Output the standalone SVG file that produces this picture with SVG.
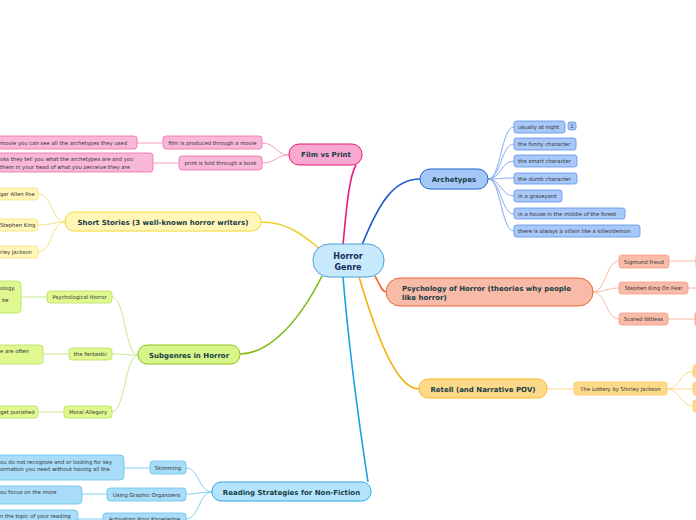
<svg xmlns="http://www.w3.org/2000/svg" width="696" height="520" viewBox="0 0 696 520">
<style>
text{font-family:"DejaVu Sans","Liberation Sans",sans-serif}
.m{font-size:7px;font-weight:bold;fill:#173c45;text-anchor:middle}
.c{font-size:5.3px;fill:#333}
.cc{font-size:5.3px;fill:#333;text-anchor:middle}
.b{fill:none;stroke-width:1.6}
.t{fill:none;stroke-width:1}
</style>
<rect width="696" height="520" fill="#fff"/>
<g id="connectors">
<path class="b" stroke="#e8197a" d="M343,245 C347,200 350,175 356,165"/>
<path class="b" stroke="#f0d030" d="M321,250 C300,232 285,222 261,222"/>
<path class="b" stroke="#7cba10" d="M322,276 C300,320 270,354 240,354"/>
<path class="b" stroke="#1aa0e0" d="M343,277 C350,360 360,430 368,482"/>
<path class="b" stroke="#1e5fcc" d="M362,245 C380,200 395,179 420,179"/>
<path class="b" stroke="#f06530" d="M375,276 C380,285 382,292 386,292"/>
<path class="b" stroke="#f5b010" d="M359,277 C375,330 395,389 419,389"/>
<g stroke="#f49ac6" class="t">
<path d="M289,155 C276,155 276,143 262,143"/><path d="M289,155 C276,155 276,163 262,163"/>
<path d="M163,143 L137,143"/><path d="M179,163 L153,163"/>
</g>
<g stroke="#f5e27a" class="t">
<path d="M65,222 C52,222 52,194 38,194"/><path d="M65,222 C52,222 52,225 38,225"/><path d="M65,222 C52,222 52,252 38,252"/>
</g>
<g stroke="#c8e890" class="t">
<path d="M138,355 C125,355 125,297 112,297"/><path d="M138,355 C125,355 125,354 112,354"/><path d="M138,355 C125,355 125,412 112,412"/>
<path d="M47,297 L21,297"/><path d="M69,354 L43,354"/><path d="M64,412 L38,412"/>
</g>
<g stroke="#80cdf0" class="t">
<path d="M212,492 C199,492 199,468 186,468"/><path d="M212,492 C199,492 199,494 186,494"/><path d="M212,492 C199,492 199,519 186,519"/>
<path d="M150,468 L124,468"/><path d="M107,494 L82,494"/><path d="M103,519 L78,519"/>
</g>
<g stroke="#86acf0" class="t">
<path d="M488,179 C501,179 501,127 514,127"/><path d="M488,179 C501,179 501,144 514,144"/><path d="M488,179 C501,179 501,161 514,161"/><path d="M488,179 C501,179 501,178 514,178"/><path d="M488,179 C501,179 501,196 514,196"/><path d="M488,179 C501,179 501,214 514,214"/><path d="M488,179 C501,179 501,231 514,231"/>
</g>
<g stroke="#f8b8a0" class="t">
<path d="M593,292 C606,292 606,261 619,261"/><path d="M593,292 C606,292 606,288 619,288"/><path d="M593,292 C606,292 606,319 619,319"/>
<path d="M669,261 L696,261"/><path d="M688,288 L696,288"/><path d="M668,319 L696,319"/>
</g>
<g stroke="#fcd890" class="t">
<path d="M547,389 L574,389"/>
<path d="M667,389 C680,389 680,371 694,371"/><path d="M667,389 L694,389"/><path d="M667,389 C680,389 680,406 694,406"/>
</g>
</g>
<g id="center"><rect x="313" y="244" width="71" height="33" rx="16" fill="#c6eafb" stroke="#4a9fd8" stroke-width="1"/><text class="m" x="348" y="259" style="font-size:8px;fill:#1a2b5c">Horror</text><text class="m" x="348" y="270" style="font-size:8px;fill:#1a2b5c">Genre</text></g>
<g id="film"><rect x="289" y="144" width="73" height="21" rx="10" fill="#f9a8cf" stroke="#e8197a"/><text class="m" x="326" y="157">Film vs Print</text></g>
<g id="film1"><rect x="163" y="136" width="99" height="13" rx="3" fill="#f9b8d8" stroke="#f06aa8" stroke-width=".8"/><text class="cc" x="212.5" y="144.5">film is produced through a movie</text></g>
<g id="film2"><rect x="179" y="156" width="83" height="14" rx="3" fill="#f9b8d8" stroke="#f06aa8" stroke-width=".8"/><text class="cc" x="220.5" y="165">print is told through a book</text></g>
<g id="film1a"><rect x="-10" y="136" width="147" height="13" rx="3" fill="#f9b8d8" stroke="#f06aa8" stroke-width=".8"/><text class="c" x="0" y="144.5">movie you can see all the archetypes they used</text></g>
<g id="film2a"><rect x="-10" y="153" width="163" height="19" rx="3" fill="#f9b8d8" stroke="#f06aa8" stroke-width=".8"/><text class="c" x="0" y="161">oks they tell you what the archetypes are and you</text><text class="c" x="0" y="168.5">them in your head of what you perceive they are</text></g>
<g id="short"><rect x="65" y="212" width="196" height="19" rx="9" fill="#fff6b8" stroke="#f0d830"/><text class="m" x="163" y="224.5">Short Stories (3 well-known horror writers)</text></g>
<g id="poe"><rect x="-10" y="188" width="48" height="12" rx="3" fill="#fff6b8" stroke="#f5e27a" stroke-width=".8"/><text class="c" x="0" y="196">gar Allen Poe</text></g>
<g id="king"><rect x="-10" y="219" width="48" height="12" rx="3" fill="#fff6b8" stroke="#f5e27a" stroke-width=".8"/><text class="c" x="0" y="227">Stephen King</text></g>
<g id="jackson"><rect x="-10" y="246" width="48" height="12" rx="3" fill="#fff6b8" stroke="#f5e27a" stroke-width=".8"/><text class="c" x="0" y="254">rley Jackson</text></g>
<g id="sub"><rect x="138" y="345" width="102" height="19" rx="9" fill="#d8f58a" stroke="#8cc21c"/><text class="m" x="189" y="357.5">Subgenres in Horror</text></g>
<g id="psych"><rect x="47" y="291" width="65" height="12" rx="3" fill="#e0f890" stroke="#b8e060" stroke-width=".8"/><text class="cc" x="79.5" y="299">Psychological Horror</text></g>
<g id="fant"><rect x="69" y="348" width="43" height="12" rx="3" fill="#e0f890" stroke="#b8e060" stroke-width=".8"/><text class="cc" x="90.5" y="356">the fantastic</text></g>
<g id="moral"><rect x="64" y="406" width="48" height="12" rx="3" fill="#e0f890" stroke="#b8e060" stroke-width=".8"/><text class="cc" x="88" y="414">Moral Allegory</text></g>
<g id="psycha"><rect x="-10" y="281" width="31" height="32" rx="4" fill="#e0f890" stroke="#b8e060" stroke-width=".8"/><text class="c" x="0" y="290">ology.</text><text class="c" x="2" y="302">be</text></g>
<g id="fanta"><rect x="-10" y="345" width="53" height="19" rx="3" fill="#e0f890" stroke="#b8e060" stroke-width=".8"/><text class="c" x="0" y="353">e are often</text></g>
<g id="morala"><rect x="-10" y="406" width="48" height="12" rx="3" fill="#e0f890" stroke="#b8e060" stroke-width=".8"/><text class="c" x="0" y="414">get punished</text></g>
<g id="read"><rect x="212" y="482" width="159" height="19" rx="9" fill="#b3e4fb" stroke="#2ea8e0"/><text class="m" x="291.5" y="494.5">Reading Strategies for Non-Fiction</text></g>
<g id="skim"><rect x="150" y="461" width="36" height="13" rx="3" fill="#a9dcf8" stroke="#66c1ec" stroke-width=".8"/><text class="cc" x="168" y="469.5">Skimming</text></g>
<g id="graphic"><rect x="107" y="488" width="79" height="13" rx="3" fill="#a9dcf8" stroke="#66c1ec" stroke-width=".8"/><text class="cc" x="146.5" y="496.5">Using Graphic Organizers</text></g>
<g id="prior"><rect x="103" y="513" width="83" height="13" rx="3" fill="#a9dcf8" stroke="#66c1ec" stroke-width=".8"/><text class="cc" x="144.5" y="521">Activating Prior Knowledge</text></g>
<g id="skima"><rect x="-10" y="455" width="134" height="25" rx="4" fill="#a9dcf8" stroke="#66c1ec" stroke-width=".8"/><text class="c" x="0" y="464">ou do not recognize and or looking for key</text><text class="c" x="0" y="471">ormation you need without having all the</text></g>
<g id="graphica"><rect x="-10" y="486" width="92" height="18" rx="4" fill="#a9dcf8" stroke="#66c1ec" stroke-width=".8"/><text class="c" x="0" y="494">ou focus on the more</text></g>
<g id="priora"><rect x="-10" y="510" width="88" height="16" rx="4" fill="#a9dcf8" stroke="#66c1ec" stroke-width=".8"/><text class="c" x="0" y="518">n the topic of your reading</text></g>
<g id="arch"><rect x="420" y="169" width="68" height="20" rx="10" fill="#a6c8f8" stroke="#1e63c8"/><text class="m" x="454" y="181.5">Archetypes</text></g>
<g id="a1"><rect x="514" y="121" width="51" height="12" rx="2.5" fill="#a8c8f8" stroke="#5b8fe8" stroke-width=".8"/><text class="c" x="518" y="129">usually at night</text><rect x="568" y="122" width="8" height="8" rx="2" fill="#a8c8f8" stroke="#5b8fe8" stroke-width=".8"/><text class="cc" x="572" y="128">1</text></g>
<g id="a2"><rect x="514" y="138" width="62" height="12" rx="2.5" fill="#a8c8f8" stroke="#5b8fe8" stroke-width=".8"/><text class="c" x="518" y="146">the funny character</text></g>
<g id="a3"><rect x="514" y="155" width="63" height="12" rx="2.5" fill="#a8c8f8" stroke="#5b8fe8" stroke-width=".8"/><text class="c" x="518" y="163">the smart character</text></g>
<g id="a4"><rect x="514" y="173" width="63" height="11" rx="2.5" fill="#a8c8f8" stroke="#5b8fe8" stroke-width=".8"/><text class="c" x="518" y="180.5">the dumb character</text></g>
<g id="a5"><rect x="514" y="190" width="48" height="12" rx="2.5" fill="#a8c8f8" stroke="#5b8fe8" stroke-width=".8"/><text class="c" x="518" y="198">in a graveyard</text></g>
<g id="a6"><rect x="514" y="208" width="111" height="11" rx="2.5" fill="#a8c8f8" stroke="#5b8fe8" stroke-width=".8"/><text class="c" x="518" y="215.5">in a house in the middle of the forest</text></g>
<g id="a7"><rect x="514" y="225" width="126" height="12" rx="2.5" fill="#a8c8f8" stroke="#5b8fe8" stroke-width=".8"/><text class="c" x="518" y="233">there is always a villain like a killer/demon</text></g>
<g id="psyh"><rect x="386" y="278" width="207" height="28" rx="14" fill="#f7bba8" stroke="#f06530"/><text class="m" x="402" y="290.5" style="text-anchor:start">Psychology of Horror (theories why people</text><text class="m" x="402" y="299.5" style="text-anchor:start">like horror)</text></g>
<g id="freud"><rect x="619" y="255" width="50" height="13" rx="2.5" fill="#f7bba8" stroke="#f8a088" stroke-width=".8"/><text class="cc" x="644" y="263.5">Sigmund Freud</text></g>
<g id="kingfear"><rect x="619" y="282" width="69" height="12" rx="2.5" fill="#f7bba8" stroke="#f8a088" stroke-width=".8"/><text class="cc" x="653.5" y="290">Stephen King On Fear</text></g>
<g id="witless"><rect x="619" y="313" width="49" height="12" rx="2.5" fill="#f7bba8" stroke="#f8a088" stroke-width=".8"/><text class="cc" x="643.5" y="321">Scared Witless</text></g>
<g id="freuda"><rect x="696" y="253" width="20" height="16" rx="2.5" fill="#f7bba8" stroke="#f8a088" stroke-width=".8"/></g>
<g id="witlessa"><rect x="695" y="312" width="20" height="14" rx="2.5" fill="#f7bba8" stroke="#f8a088" stroke-width=".8"/></g>
<g id="retell"><rect x="419" y="379" width="128" height="19" rx="9" fill="#fdd98a" stroke="#f5b820"/><text class="m" x="483" y="391.5">Retell (and Narrative POV)</text></g>
<g id="lottery"><rect x="574" y="382" width="93" height="13" rx="2.5" fill="#fdd98a" stroke="#fcc860" stroke-width=".8"/><text class="cc" x="620.5" y="390.5">The Lottery by Shirley Jackson</text></g>
<g id="l1"><rect x="693" y="365" width="20" height="12" rx="2.5" fill="#fdd98a" stroke="#fcc860" stroke-width=".8"/></g>
<g id="l2"><rect x="693" y="382" width="20" height="13" rx="2.5" fill="#fdd98a" stroke="#fcc860" stroke-width=".8"/></g>
<g id="l3"><rect x="693" y="400" width="20" height="12" rx="2.5" fill="#fdd98a" stroke="#fcc860" stroke-width=".8"/></g>
</svg>
